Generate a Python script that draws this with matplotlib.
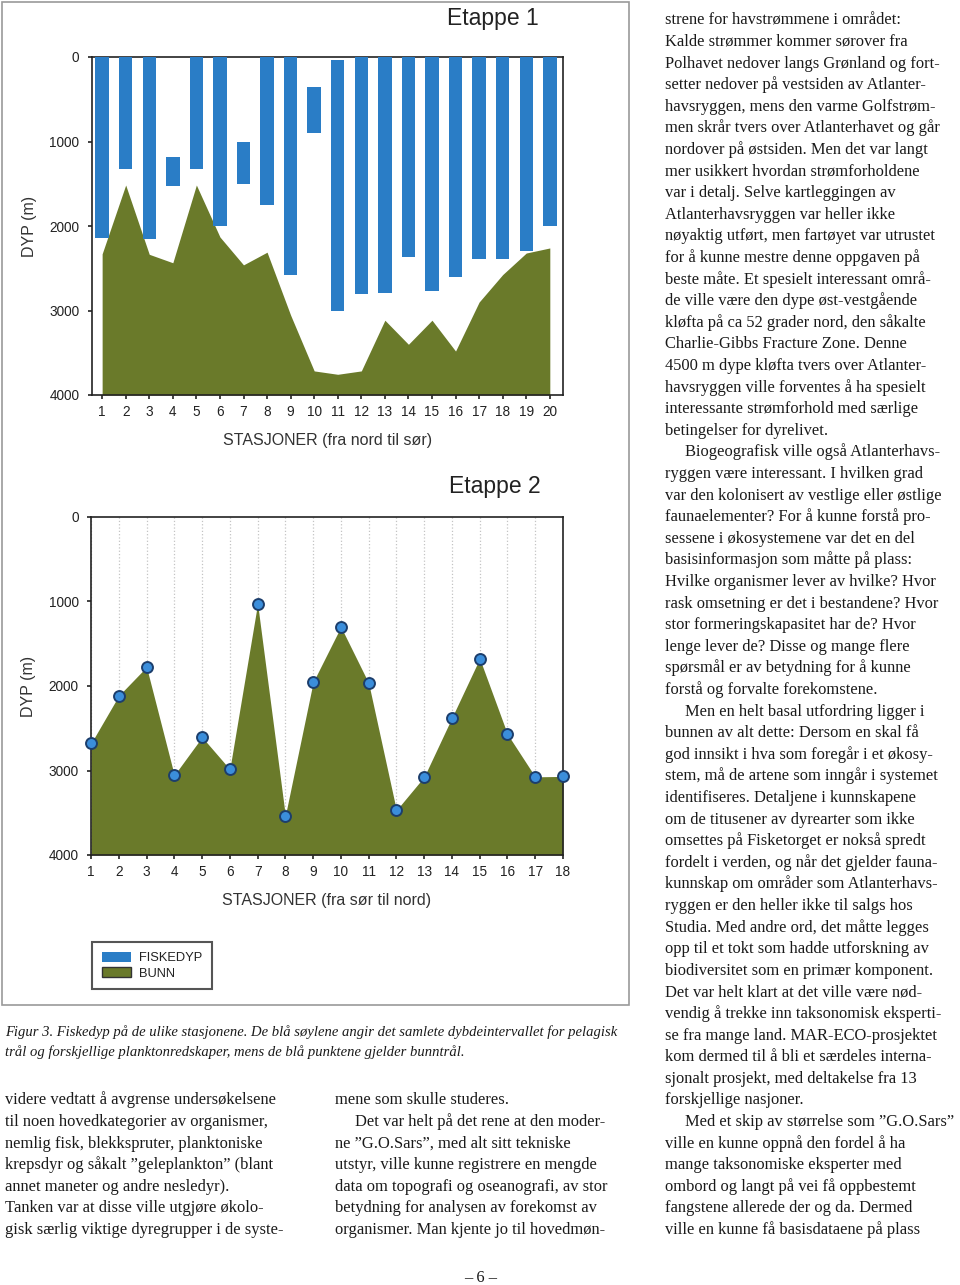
import numpy as np
import matplotlib
matplotlib.use('Agg')
import matplotlib.pyplot as plt
from matplotlib.patches import Patch, Rectangle

W, H = 960, 1285

# Etappe 1: fiskedyp (topp og bunn av søylene) og bunndyp per stasjon
stasjoner1 = [1, 2, 3, 4, 5, 6, 7, 8, 9, 10, 11, 12, 13, 14, 15, 16, 17, 18, 19, 20]
fisk_topp1 = [0, 0, 0, 1180, 0, 0, 1000, 0, 0, 350, 40, 0, 0, 0, 0, 0, 0, 0, 0, 0]
fisk_bunn1 = [2140, 1325, 2155, 1530, 1325, 2000, 1500, 1750, 2585, 900,
              3010, 2810, 2790, 2365, 2765, 2600, 2390, 2390, 2290, 2000]
bunn1 = [2330, 1515, 2335, 2435, 1515, 2130, 2460, 2310, 3055, 3715,
         3755, 3715, 3115, 3400, 3115, 3480, 2900, 2575, 2320, 2260]

# Etappe 2: bunndyp (bunntrål) per stasjon
stasjoner2 = [1, 2, 3, 4, 5, 6, 7, 8, 9, 10, 11, 12, 13, 14, 15, 16, 17, 18]
bunn2 = [2680, 2115, 1775, 3055, 2605, 2985, 1025, 3535, 1955, 1300,
         1965, 3470, 3075, 2375, 1675, 2570, 3075, 3070]

dyp_ticks = [0, 1000, 2000, 3000, 4000]

caption = ["Figur 3. Fiskedyp på de ulike stasjonene. De blå søylene angir det samlete dybdeintervallet for pelagisk",
           "trål og forskjellige planktonredskaper, mens de blå punktene gjelder bunntrål."]

# linjer som starter med \t har innrykk
kolonne1 = ["videre vedtatt å avgrense undersøkelsene",
            "til noen hovedkategorier av organismer,",
            "nemlig fisk, blekkspruter, planktoniske",
            "krepsdyr og såkalt ”geleplankton” (blant",
            "annet maneter og andre nesledyr).",
            "Tanken var at disse ville utgjøre økolo-",
            "gisk særlig viktige dyregrupper i de syste-"]
kolonne2 = ["mene som skulle studeres.",
            "\tDet var helt på det rene at den moder-",
            "ne ”G.O.Sars”, med alt sitt tekniske",
            "utstyr, ville kunne registrere en mengde",
            "data om topografi og oseanografi, av stor",
            "betydning for analysen av forekomst av",
            "organismer. Man kjente jo til hovedmøn-"]
kolonne3 = ["strene for havstrømmene i området:",
            "Kalde strømmer kommer sørover fra",
            "Polhavet nedover langs Grønland og fort-",
            "setter nedover på vestsiden av Atlanter-",
            "havsryggen, mens den varme Golfstrøm-",
            "men skrår tvers over Atlanterhavet og går",
            "nordover på østsiden. Men det var langt",
            "mer usikkert hvordan strømforholdene",
            "var i detalj. Selve kartleggingen av",
            "Atlanterhavsryggen var heller ikke",
            "nøyaktig utført, men fartøyet var utrustet",
            "for å kunne mestre denne oppgaven på",
            "beste måte. Et spesielt interessant områ-",
            "de ville være den dype øst-vestgående",
            "kløfta på ca 52 grader nord, den såkalte",
            "Charlie-Gibbs Fracture Zone. Denne",
            "4500 m dype kløfta tvers over Atlanter-",
            "havsryggen ville forventes å ha spesielt",
            "interessante strømforhold med særlige",
            "betingelser for dyrelivet.",
            "\tBiogeografisk ville også Atlanterhavs-",
            "ryggen være interessant. I hvilken grad",
            "var den kolonisert av vestlige eller østlige",
            "faunaelementer? For å kunne forstå pro-",
            "sessene i økosystemene var det en del",
            "basisinformasjon som måtte på plass:",
            "Hvilke organismer lever av hvilke? Hvor",
            "rask omsetning er det i bestandene? Hvor",
            "stor formeringskapasitet har de? Hvor",
            "lenge lever de? Disse og mange flere",
            "spørsmål er av betydning for å kunne",
            "forstå og forvalte forekomstene.",
            "\tMen en helt basal utfordring ligger i",
            "bunnen av alt dette: Dersom en skal få",
            "god innsikt i hva som foregår i et økosy-",
            "stem, må de artene som inngår i systemet",
            "identifiseres. Detaljene i kunnskapene",
            "om de titusener av dyrearter som ikke",
            "omsettes på Fisketorget er nokså spredt",
            "fordelt i verden, og når det gjelder fauna-",
            "kunnskap om områder som Atlanterhavs-",
            "ryggen er den heller ikke til salgs hos",
            "Studia. Med andre ord, det måtte legges",
            "opp til et tokt som hadde utforskning av",
            "biodiversitet som en primær komponent.",
            "Det var helt klart at det ville være nød-",
            "vendig å trekke inn taksonomisk eksperti-",
            "se fra mange land. MAR-ECO-prosjektet",
            "kom dermed til å bli et særdeles interna-",
            "sjonalt prosjekt, med deltakelse fra 13",
            "forskjellige nasjoner.",
            "\tMed et skip av størrelse som ”G.O.Sars”",
            "ville en kunne oppnå den fordel å ha",
            "mange taksonomiske eksperter med",
            "ombord og langt på vei få oppbestemt",
            "fangstene allerede der og da. Dermed",
            "ville en kunne få basisdataene på plass"]

BLUE = '#2A7DC6'
GREEN = '#6A7A2A'
INDENT = 20

plt.rcParams['font.family'] = ['Liberation Sans', 'DejaVu Sans']


def box(l, t, r, b):
    return [l / W, 1 - b / H, (r - l) / W, (b - t) / H]


def style_axes(ax, xlabel):
    ax.set_ylim(4000, 0)
    ax.set_yticks(dyp_ticks)
    ax.tick_params(direction='out', length=3, width=1.2, labelsize=9.8,
                   colors='#222222')
    ax.tick_params(axis='y', pad=6)
    ax.tick_params(axis='x', pad=4)
    for sp in ax.spines.values():
        sp.set_linewidth(1.2)
        sp.set_color('#222222')
    ax.set_ylabel('DYP (m)', fontsize=11.5, color='#333333', va='center')
    ax.yaxis.set_label_coords(-0.132, 0.5)
    ax.set_xlabel(xlabel, fontsize=11.5, color='#333333', va='center')
    ax.xaxis.set_label_coords(0.5, -0.136)


fig = plt.figure(figsize=(W / 100, H / 100), dpi=100)
fig.patches.append(Rectangle((2 / W, 1 - 1005 / H), 627 / W, 1003 / H,
                             transform=fig.transFigure, fill=False,
                             edgecolor='#9a9a9a', linewidth=1.2))

# Etappe 1
ax1 = fig.add_axes(box(92, 57, 563, 395))
ax1.fill_between(stasjoner1, bunn1, 4000, color=GREEN, lw=0, zorder=2)
hoyde1 = np.array(fisk_bunn1) - np.array(fisk_topp1)
ax1.bar(stasjoner1, hoyde1, bottom=fisk_topp1, width=0.57, color=BLUE, zorder=3)
ax1.set_xlim(0.57, 20.56)
ax1.set_xticks(stasjoner1)
style_axes(ax1, 'STASJONER (fra nord til sør)')
fig.text(493 / W, 1 - 19 / H, 'Etappe 1', fontsize=16.5, ha='center',
         va='center', color='#222222')

# Etappe 2
ax2 = fig.add_axes(box(91, 517, 563, 855))
ax2.vlines(stasjoner2, 0, 4000, colors='#c4c4c4', linestyles=':', lw=0.9, zorder=1)
ax2.fill_between(stasjoner2, bunn2, 4000, color=GREEN, lw=0, zorder=2)
ax2.scatter(stasjoner2, bunn2, s=62, color='#3B8EDB', edgecolors='#1C3E6C',
            linewidths=1.4, zorder=4, clip_on=False)
ax2.set_xlim(1, 18)
ax2.set_xticks(stasjoner2)
style_axes(ax2, 'STASJONER (fra sør til nord)')
fig.text(495 / W, 1 - 486 / H, 'Etappe 2', fontsize=16.5, ha='center',
         va='center', color='#222222')

leg = fig.legend(handles=[Patch(facecolor=BLUE, label='FISKEDYP'),
                          Patch(facecolor=GREEN, edgecolor='#333333', label='BUNN')],
                 loc='upper left', bbox_to_anchor=(92 / W, 1 - 942 / H),
                 fancybox=False, framealpha=1, edgecolor='#555555',
                 fontsize=9.3, handlelength=2.3, handleheight=0.85,
                 borderpad=0.75, labelspacing=0.2, handletextpad=0.6,
                 borderaxespad=0)
leg.get_frame().set_linewidth(1.5)
for t in leg.get_texts():
    t.set_color('#222222')

# Tekst rundt figuren
renderer = fig.canvas.get_renderer()
serif = ['Liberation Serif', 'DejaVu Serif']


def text_width(s, size, **kw):
    t = fig.text(0, 0, s, fontsize=size, **kw)
    w = t.get_window_extent(renderer).width
    t.remove()
    return w


cap_size = 10 * 608 / text_width(caption[0], 10, family=serif, style='italic')
for i, line in enumerate(caption):
    fig.text(5 / W, 1 - (1036 + 20 * i) / H, line, family=serif, style='italic',
             fontsize=cap_size, va='baseline', color='#1a1a1a')

# skriftstørrelse slik at den bredeste linjen i høyre spalte får plass
widest = max(text_width(s.lstrip('\t'), 10, family=serif) + (INDENT if s.startswith('\t') else 0)
             for s in kolonne3)
body_size = 10 * 292 / widest


def draw_column(lines, x0, base_last):
    n = len(lines)
    for i, line in enumerate(lines):
        x = x0
        if line.startswith('\t'):
            line = line[1:]
            x += INDENT
        y = base_last - 21.6 * (n - 1 - i)
        fig.text(x / W, 1 - y / H, line, family=serif, fontsize=body_size,
                 va='baseline', color='#1a1a1a')


draw_column(kolonne1, 5, 1234)
draw_column(kolonne2, 335, 1234)
draw_column(kolonne3, 665, 1234)
fig.text(481 / W, 1 - 1282 / H, '– 6 –', family=serif, fontsize=body_size,
         ha='center', va='baseline', color='#1a1a1a')

fig.savefig('out.png', dpi=100)
